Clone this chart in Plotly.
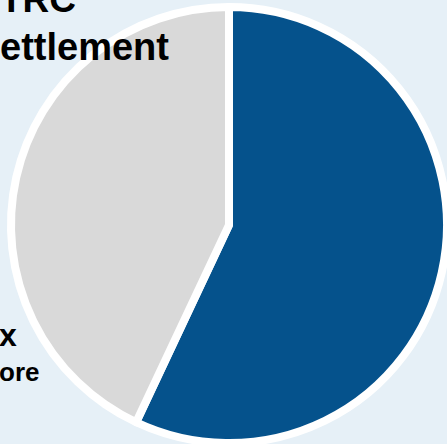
import plotly.graph_objects as go

# Share split shown in the pie
labels = ["Settled", "Remaining"]
values = [57, 43]
colors = ["#05528c", "#d9d9d9"]

# Heading and side text fragments
title_lines = ["TRC", "ettlement"]
side_lines = ["x", "ore"]

W, H = 447, 444
BG = "#e6f0f7"

fig = go.Figure(
    go.Pie(
        labels=labels,
        values=values,
        sort=False,
        direction="clockwise",
        rotation=0,
        marker=dict(colors=colors, line=dict(color="white", width=8)),
        textinfo="none",
        hoverinfo="label+percent",
        showlegend=False,
        domain=dict(x=[11 / W, 1], y=[0, 1 - 6 / H]),
    )
)


def px_x(v):
    return v / W


def px_y(v):
    return 1 - v / H


def add_text(text, left, baseline, size):
    fig.add_annotation(
        text=f"<b>{text}</b>",
        xref="paper", yref="paper",
        x=px_x(left), y=px_y(baseline - 0.35 * size),
        xanchor="left", yanchor="middle",
        showarrow=False,
        font=dict(family="Liberation Sans, Arial, sans-serif", size=size, color="#000000"),
    )


add_text(title_lines[0], -2, 12, 37)
add_text(title_lines[1], -2, 60, 38)
add_text(side_lines[0], -3, 346, 32)
add_text(side_lines[1], -3, 381, 26)

fig.update_layout(
    width=W, height=H,
    margin=dict(l=0, r=0, t=0, b=0),
    paper_bgcolor=BG,
    plot_bgcolor=BG,
)

fig.write_html("out.html")
